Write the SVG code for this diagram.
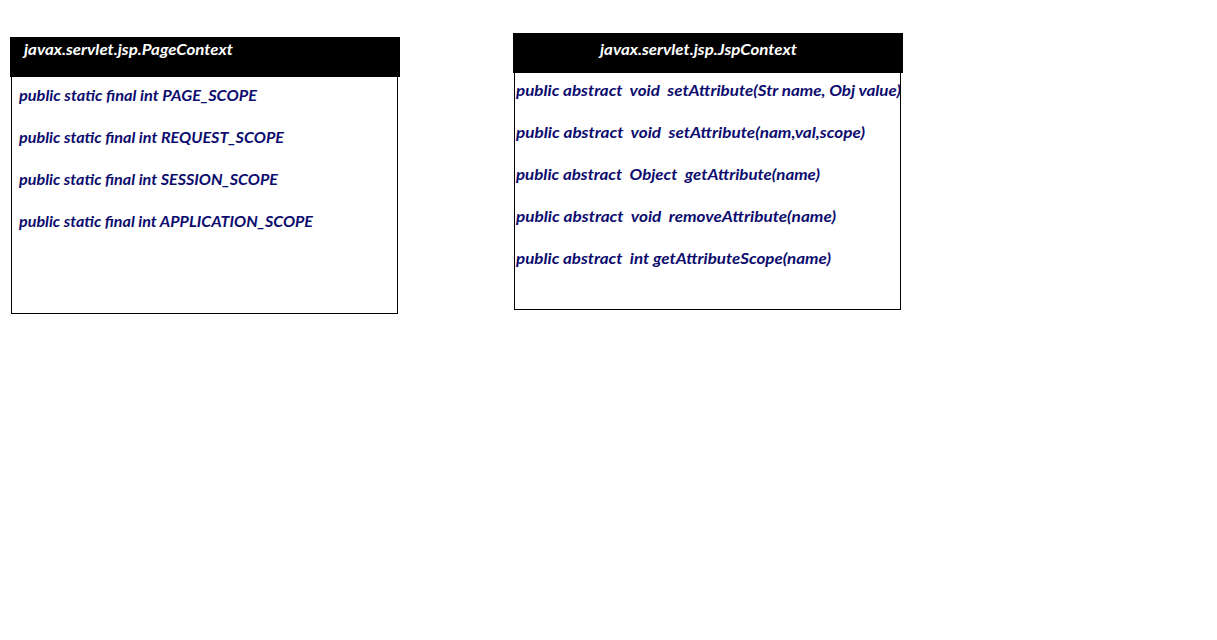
<svg xmlns="http://www.w3.org/2000/svg" width="1217" height="640" viewBox="0 0 1217 640">
<style>
.hdr{fill:#000000}
.body{fill:#ffffff;stroke:#000000;stroke-width:1}
.title{font-family:Lato,"Liberation Sans",sans-serif;font-weight:bold;font-style:italic;font-size:16px;fill:#ffffff;white-space:pre}
.item{font-family:Lato,"Liberation Sans",sans-serif;font-weight:bold;font-style:italic;font-size:16px;fill:#0c0c6e;white-space:pre}
</style>
<rect width="1217" height="640" fill="#ffffff"/>
<g id="pagecontext">
<rect class="body" x="11.5" y="70.5" width="386" height="243"/>
<rect class="hdr" x="10" y="37" width="390" height="40"/>
<text class="title" x="24" y="55" textLength="209" lengthAdjust="spacingAndGlyphs">javax.servlet.jsp.PageContext</text>
<text class="item" x="19" y="101" textLength="238" lengthAdjust="spacingAndGlyphs">public static final int PAGE_SCOPE</text>
<text class="item" x="19" y="143" textLength="265" lengthAdjust="spacingAndGlyphs">public static final int REQUEST_SCOPE</text>
<text class="item" x="19" y="185" textLength="259" lengthAdjust="spacingAndGlyphs">public static final int SESSION_SCOPE</text>
<text class="item" x="19" y="227" textLength="294" lengthAdjust="spacingAndGlyphs">public static final int APPLICATION_SCOPE</text>
</g>
<g id="jspcontext">
<rect class="body" x="514.5" y="66.5" width="386" height="243"/>
<rect class="hdr" x="513" y="33" width="390" height="40"/>
<text class="title" x="600" y="55" textLength="197" lengthAdjust="spacingAndGlyphs">javax.servlet.jsp.JspContext</text>
<text class="item" x="516" y="96" textLength="385" lengthAdjust="spacingAndGlyphs">public abstract  void  setAttribute(Str name, Obj value)</text>
<text class="item" x="516" y="138" textLength="349" lengthAdjust="spacingAndGlyphs">public abstract  void  setAttribute(nam,val,scope)</text>
<text class="item" x="516" y="180" textLength="304" lengthAdjust="spacingAndGlyphs">public abstract  Object  getAttribute(name)</text>
<text class="item" x="516" y="222" textLength="320" lengthAdjust="spacingAndGlyphs">public abstract  void  removeAttribute(name)</text>
<text class="item" x="516" y="264" textLength="315" lengthAdjust="spacingAndGlyphs">public abstract  int getAttributeScope(name)</text>
</g>
<g id="connectors"></g>
</svg>
